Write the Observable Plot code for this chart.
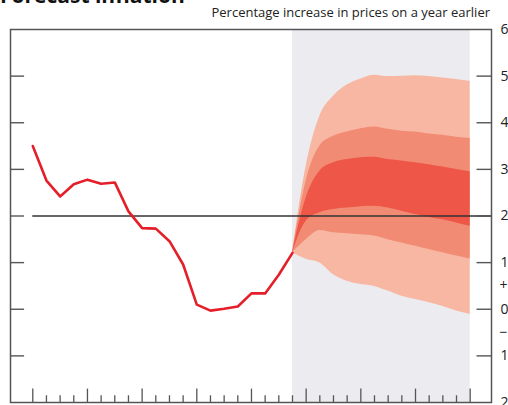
<!DOCTYPE html>
<html><head><meta charset="utf-8">
<script src="https://cdn.jsdelivr.net/npm/d3@7"></script>
<script src="https://cdn.jsdelivr.net/npm/@observablehq/plot@0.6"></script>
<style>
html,body{margin:0;padding:0;background:#fff;width:508px;height:405px;overflow:hidden;}
#header{position:relative;height:20px;width:508px;overflow:hidden;}
#title{position:absolute;left:0;top:-15px;font:bold 21px "Open Sans",sans-serif;line-height:20px;color:#111;white-space:nowrap;}
#subtitle{position:absolute;right:18px;top:4px;font:13px "Open Sans",sans-serif;line-height:16px;color:#222;white-space:nowrap;}
</style></head><body>
<div id="header"><div id="title">Forecast inflation</div><div id="subtitle">Percentage increase in prices on a year earlier</div></div>
<div id="chart"></div>
<script>
// Observed inflation, one value per quarter (quarter index 0..19)
const inflation = [3.50, 2.76, 2.42, 2.68, 2.78, 2.69, 2.72, 2.10, 1.74, 1.73, 1.46, 0.96, 0.10, -0.03, 0.01, 0.06, 0.34, 0.34, 0.74, 1.21];

// Fan chart bands, quarters 19..32
const fanQuarters = [19, 20, 21, 22, 23, 24, 25, 26, 27, 28, 29, 30, 31, 32];
const outerUpper  = [1.21, 3.07, 4.14, 4.57, 4.81, 4.94, 5.02, 4.99, 5.00, 5.01, 4.99, 4.96, 4.93, 4.89];
const middleUpper = [1.21, 2.75, 3.50, 3.71, 3.80, 3.87, 3.91, 3.86, 3.82, 3.80, 3.76, 3.73, 3.69, 3.66];
const innerUpper  = [1.21, 2.39, 2.96, 3.14, 3.21, 3.25, 3.26, 3.21, 3.18, 3.14, 3.10, 3.05, 3.00, 2.95];
const innerLower  = [1.21, 1.89, 2.07, 2.14, 2.17, 2.20, 2.21, 2.17, 2.10, 2.03, 1.97, 1.92, 1.85, 1.78];
const middleLower = [1.21, 1.49, 1.69, 1.64, 1.62, 1.60, 1.57, 1.49, 1.42, 1.35, 1.28, 1.21, 1.14, 1.08];
const outerLower  = [1.21, 1.07, 0.99, 0.74, 0.60, 0.53, 0.49, 0.39, 0.28, 0.21, 0.14, 0.06, -0.04, -0.11];

// Axis ticks and labels
const yTickValues = [6, 5, 4, 3, 2, 1, 0, -1, -2];
const yTickLabels = ["6", "5", "4", "3", "2", "1", "0", "1", "2"];
const yTickMarks  = [5, 4, 3, 2, 1, 0, -1];
const signValues  = [0.5, -0.5];
const signLabels  = ["+", "\u2212"];
const xTickQuarters = [0,1,2,3,4,5,6,7,8,9,10,11,12,13,14,15,16,17,18,19,20,21,22,23,24,25,26,27,28,29,30,31,32];
const target = [2];

// Scale domains
const xDomain = [-1.63, 33.56];
const yDomain = [-2, 6];

const fan = fanQuarters.map((q, i) => ({
  q, ou: outerUpper[i], mu: middleUpper[i], iu: innerUpper[i],
  il: innerLower[i], ml: middleLower[i], ol: outerLower[i]
}));
const projection = [{start: fanQuarters[0], end: fanQuarters[fanQuarters.length - 1]}];

const axisColor = "#555";
const leftTickLen = 1.03;   // in quarters (~14px)
const rightTickLen = 1.06;
const majorLen = 0.287;     // in percentage points (~13px)
const minorLen = 0.144;

const chart = Plot.plot({
  width: 508,
  height: 385,
  marginTop: 9,
  marginBottom: 3,
  marginLeft: 10,
  marginRight: 17,
  x: {domain: xDomain, axis: null},
  y: {domain: yDomain, axis: null},
  style: {fontFamily: "'Open Sans', sans-serif", overflow: "visible", background: "transparent"},
  marks: [
    Plot.rect(projection, {x1: "start", x2: "end", y1: () => yDomain[0], y2: () => yDomain[1], fill: "#ebebf0"}),
    Plot.areaY(fan, {x: "q", y1: "ol", y2: "ou", fill: "#f8b7a2", curve: "monotone-x"}),
    Plot.areaY(fan, {x: "q", y1: "ml", y2: "mu", fill: "#f28b74", curve: "monotone-x"}),
    Plot.areaY(fan, {x: "q", y1: "il", y2: "iu", fill: "#ee5647", curve: "monotone-x"}),
    Plot.ruleY(target, {y: d => d, x1: () => 0, x2: () => xDomain[1], stroke: "#333", strokeWidth: 1.5}),
    Plot.line(inflation, {x: (d, i) => i, y: d => d, stroke: "#e41f2a", strokeWidth: 2.6, strokeLinejoin: "round", strokeLinecap: "round"}),
    Plot.frame({stroke: axisColor, strokeWidth: 1.5}),
    Plot.ruleY(yTickMarks, {y: d => d, x1: () => xDomain[0], x2: () => xDomain[0] + leftTickLen, stroke: axisColor, strokeWidth: 1.4}),
    Plot.ruleY(yTickMarks, {y: d => d, x1: () => xDomain[1] - rightTickLen, x2: () => xDomain[1], stroke: axisColor, strokeWidth: 1.4}),
    Plot.ruleX(xTickQuarters, {x: d => d, y1: () => yDomain[0], y2: d => yDomain[0] + (d % 4 === 0 ? majorLen : minorLen), stroke: axisColor, strokeWidth: 1.3}),
    Plot.text(yTickValues, {y: d => d, text: (d, i) => yTickLabels[i], frameAnchor: "right", dx: 9, textAnchor: "start", fontSize: 14, fill: "#222"}),
    Plot.text(signValues, {y: d => d, text: (d, i) => signLabels[i], frameAnchor: "right", dx: 8, textAnchor: "start", fontSize: 14, fill: "#222"})
  ]
});
document.getElementById("chart").appendChild(chart);
</script>
</body></html>
